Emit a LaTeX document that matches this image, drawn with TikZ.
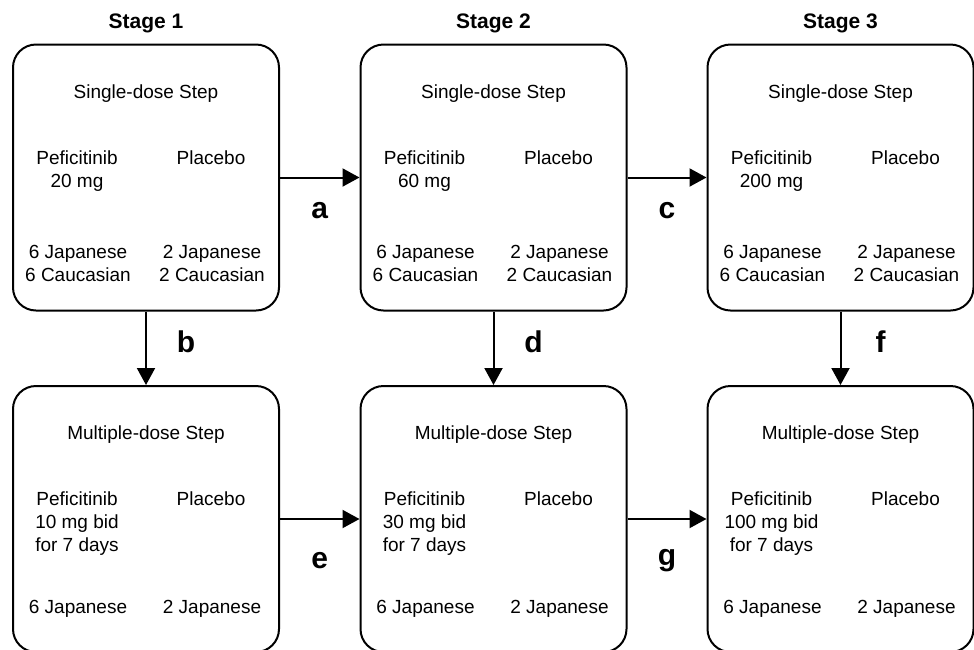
\documentclass[tikz,border=0pt]{standalone}
\usepackage{fontspec}
\setmainfont{Liberation Sans}
\usetikzlibrary{arrows.meta}

\begin{document}
\begin{tikzpicture}[x=1pt, y=-1pt, line width=2pt, line join=round, >={Triangle[length=17pt,width=18pt]}, font=\fontsize{19}{23}\selectfont]
	\tikzset{
	stepbox/.style={draw, rounded corners=23pt, minimum width=266pt, minimum height=266pt, inner sep=0pt},
	stagelbl/.style={font=\fontsize{21}{25}\selectfont\bfseries, anchor=base, inner sep=0pt},
	letter/.style={font=\fontsize{30}{34}\selectfont\bfseries, inner sep=0pt},
	txt/.style={align=center, anchor=base, inner sep=0pt},
	}
	\useasboundingbox (0,0) rectangle (974,649);
	\foreach \i/\x/\sd/\md in {1/146/20 mg/10 mg bid, 2/493.5/60 mg/30 mg bid, 3/840.5/200 mg/100 mg bid}{
	\node[stagelbl] (st\i) at (\x,28) {Stage \i};
	% single-dose step (base = last line)
	\node[stepbox] (s\i) at (\x,177.5) {};
	\node[txt] (sT\i) at ([shift={(0,-79.5)}]s\i.center) {Single-dose Step};
	\node[txt] (sP\i) at ([shift={(-69,10)}]s\i.center) {Peficitinib\\\sd};
	\node[txt] (sQ\i) at ([shift={(65,-13.5)}]s\i.center) {Placebo};
	\node[txt] (sJ\i) at ([shift={(-68,104)}]s\i.center) {6 Japanese\\6 Caucasian};
	\node[txt] (sK\i) at ([shift={(66,104)}]s\i.center) {2 Japanese\\2 Caucasian};
	% multiple-dose step
	\node[stepbox] (m\i) at (\x,519) {};
	\node[txt] (mT\i) at ([shift={(0,-79.5)}]m\i.center) {Multiple-dose Step};
	\node[txt] (mP\i) at ([shift={(-69,32)}]m\i.center) {Peficitinib\\\md\\for 7 days};
	\node[txt] (mQ\i) at ([shift={(65,-14)}]m\i.center) {Placebo};
	\node[txt] (mJ\i) at ([shift={(-68,94.5)}]m\i.center) {6 Japanese};
	\node[txt] (mK\i) at ([shift={(66,94.5)}]m\i.center) {2 Japanese};
	}
	\foreach \i/\l in {1/b,2/d,3/f}{
	\draw[->] (s\i) -- node[letter, xshift=40pt, yshift=6.5pt]{\l} (m\i);
	}
	\foreach \i/\j/\l/\k in {1/2/a/e,2/3/c/g}{
	\draw[->] (s\i) -- node[letter, yshift=-33pt]{\l} (s\j);
	\draw[->] (m\i) -- node[letter, yshift=-42pt]{\k} (m\j);
	}
\end{tikzpicture}
\end{document}
